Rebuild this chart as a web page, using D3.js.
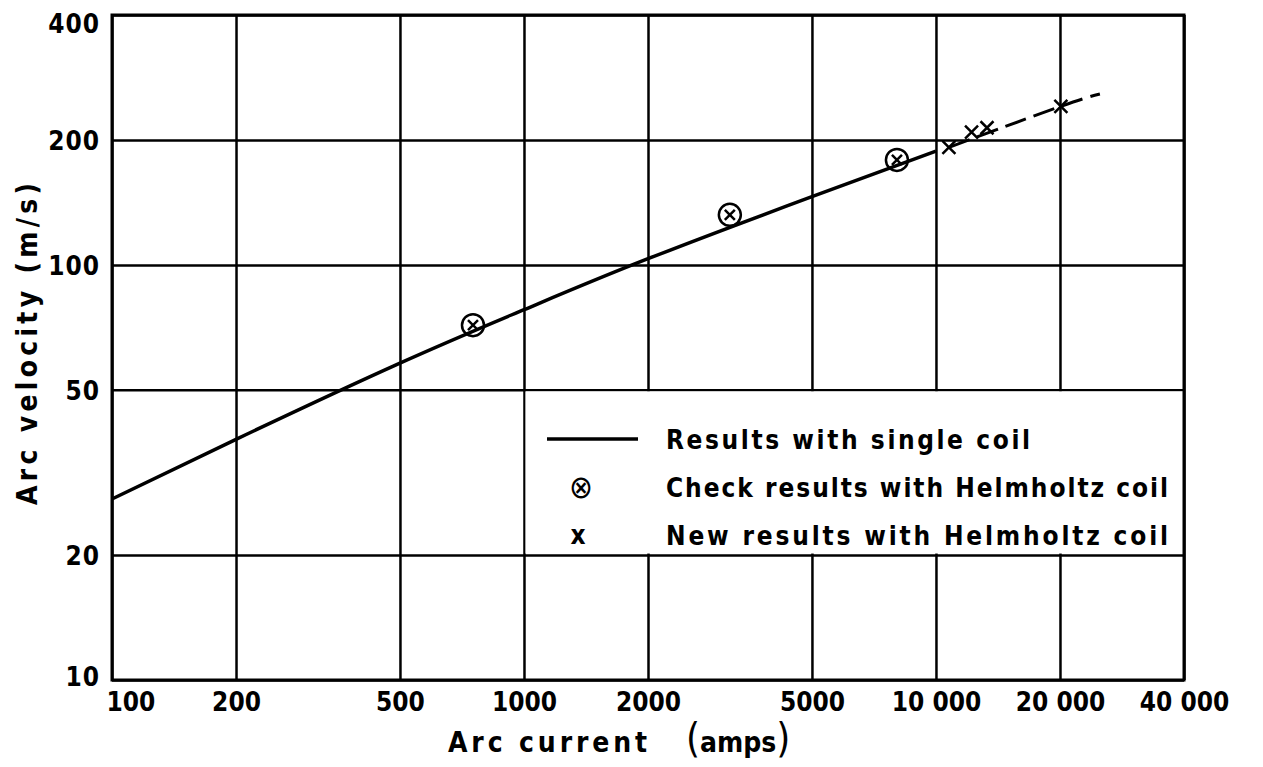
<!DOCTYPE html>
<meta charset="utf-8">
<style>
body {
    margin: 0;
    background: #fff;
}
text {
    font-family: "DejaVu Sans Condensed", "DejaVu Sans", sans-serif;
    font-weight: bold;
    fill: #000;
}
.grid line {
    stroke: #000;
    stroke-width: 2.5px;
}
.curve {
    fill: none;
    stroke: #000;
    stroke-width: 3.5px;
}
.trend {
    fill: none;
    stroke: #000;
    stroke-width: 3px;
    stroke-dasharray: 22 8;
}
.mark {
    fill: none;
    stroke: #000;
    stroke-width: 2.5px;
}
</style>
<svg width="1263" height="767"></svg>

<script src="https://cdn.jsdelivr.net/npm/d3@7/dist/d3.min.js"></script>
<script>
// values
let currentTicks = [100, 200, 500, 1000, 2000, 5000, 10000, 20000, 40000];
let currentTickLabels = ['100', '200', '500', '1000', '2000', '5000', '10 000', '20 000', '40 000'];
let velocityTicks = [10, 20, 50, 100, 200, 400];
let velocityTickLabels = ['10', '20', '50', '100', '200', '400'];

let singleCurrent = [100, 200, 500, 1000, 2000, 5000, 10000];
let singleVelocity = [27.3, 38, 58, 78, 103.5, 146, 188];

let checkCurrent = [752, 3160, 8040];
let checkVelocity = [71.6, 132, 179];

let newCurrent = [10750, 12200, 13300, 20100];
let newVelocity = [192, 209, 214, 241];

let trendCurrent = [10750, 20100, 25000];
let trendVelocity = [192, 241, 258];

let legendLabels = [
    'Results with single coil',
    'Check results with Helmholtz coil',
    'New  results  with Helmholtz coil'
];

let svg = d3.select('svg');
let margin = {left: 112, top: 15, right: 79, bottom: 87},
    width = 1263 - margin.left - margin.right,
    height = 767 - margin.top - margin.bottom;

let g = svg.append('g')
    .attr('transform', `translate(${margin.left},${margin.top})`);

let x = d3.scaleLog().domain([100, 40000]).range([0, width]);
let y = d3.scaleLog().domain([10, 400]).range([height, 0]);

// grid + tick labels through the axes
let xAxis = g.append('g').attr('class', 'grid')
    .attr('transform', `translate(0,${height})`)
    .call(d3.axisBottom(x)
        .tickValues(currentTicks)
        .tickSize(-height)
        .tickPadding(13)
        .tickFormat((d, i) => currentTickLabels[i]));
xAxis.select('.domain').remove();
xAxis.selectAll('text').style('font-size', '26px');
xAxis.selectAll('.tick').filter(d => d === 100)
    .select('text').attr('text-anchor', 'start').attr('x', -6);

let yAxis = g.append('g').attr('class', 'grid')
    .call(d3.axisLeft(y)
        .tickValues(velocityTicks)
        .tickSize(-width)
        .tickPadding(12)
        .tickFormat((d, i) => velocityTickLabels[i]));
yAxis.select('.domain').remove();
yAxis.selectAll('text')
    .style('font-size', '26px')
    .style('letter-spacing', '1px')
    .attr('dy', d => d === 400 ? '0.68em' : d === 10 ? '0.2em' : '0.36em');

// legend panel clears the grid in its cell
let lx0 = x(1000) + 1.5, lx1 = x(40000), ly0 = y(50) + 1.5, ly1 = y(20) - 1.5;
g.append('rect')
    .attr('x', lx0).attr('y', ly0)
    .attr('width', lx1 - lx0).attr('height', ly1 - ly0)
    .attr('fill', '#fff');

g.append('rect')
    .attr('width', width).attr('height', height)
    .attr('fill', 'none').attr('stroke', '#000').attr('stroke-width', 3);

// single coil curve
let line = d3.line()
    .x(d => x(d[0]))
    .y(d => y(d[1]))
    .curve(d3.curveNatural);

g.append('path').attr('class', 'curve')
    .datum(singleCurrent.map((c, i) => [c, singleVelocity[i]]))
    .attr('d', line);

g.append('path').attr('class', 'trend')
    .datum(trendCurrent.map((c, i) => [c, trendVelocity[i]]))
    .attr('d', line);

// circled crosses
let checks = g.append('g').selectAll('g')
    .data(checkCurrent.map((c, i) => [c, checkVelocity[i]]))
    .enter().append('g')
        .attr('transform', d => `translate(${x(d[0])},${y(d[1])})`);
checks.append('circle').attr('class', 'mark').attr('r', 11).attr('fill', '#fff');
checks.append('path').attr('class', 'mark').attr('d', 'M-5,-5L5,5M5,-5L-5,5');

// crosses
g.append('g').selectAll('path')
    .data(newCurrent.map((c, i) => [c, newVelocity[i]]))
    .enter().append('path')
        .attr('class', 'mark')
        .attr('stroke-width', 3)
        .attr('transform', d => `translate(${x(d[0])},${y(d[1])})`)
        .attr('d', 'M-6.5,-6.5L6.5,6.5M6.5,-6.5L-6.5,6.5');

// legend
let leg = svg.append('g');
leg.append('line')
    .attr('x1', 547).attr('x2', 638).attr('y1', 439).attr('y2', 439)
    .attr('stroke', '#000').attr('stroke-width', 3.5);
leg.append('text').attr('x', 581).attr('y', 498)
    .attr('text-anchor', 'middle').style('font-size', '32px').style('font-weight', 'normal')
    .text('\u2297');
leg.append('text').attr('x', 578).attr('y', 544)
    .attr('text-anchor', 'middle').style('font-size', '26px').text('x');

let legendWidths = [364, 502, 502];
leg.selectAll('.lab')
    .data(legendLabels)
    .enter().append('text')
        .attr('class', 'lab')
        .attr('x', 666)
        .attr('y', (d, i) => 449 + i * 48)
        .attr('textLength', (d, i) => legendWidths[i])
        .attr('lengthAdjust', 'spacing')
        .style('font-size', '26px')
        .text(d => d);

// axis titles
svg.append('text')
    .attr('x', 448).attr('y', 752)
    .attr('textLength', 199).attr('lengthAdjust', 'spacing')
    .style('font-size', '28px')
    .text('Arc current');
let amps = svg.append('text').attr('x', 686).attr('y', 752).style('font-size', '28px');
amps.append('tspan').style('font-size', '40px').style('font-weight', 'normal').text('(');
amps.append('tspan').text('amps');
amps.append('tspan').style('font-size', '40px').style('font-weight', 'normal').text(')');

svg.append('text')
    .attr('transform', 'translate(37,505) rotate(-90)')
    .attr('textLength', 322).attr('lengthAdjust', 'spacing')
    .style('font-size', '28px')
    .text('Arc velocity (m/s)');
</script>
